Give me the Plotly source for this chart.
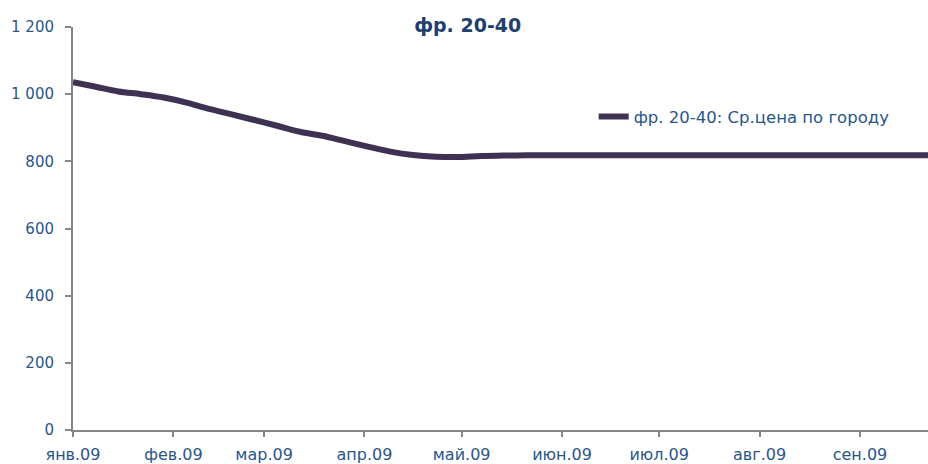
import plotly.graph_objects as go
import pandas as pd

# weekly readings starting 2009-01-01
start_date = "2009-01-01"
prices = [1036, 1022, 1008, 1000, 990, 975, 956, 940, 923, 906,
          888, 876, 860, 844, 829, 819, 814, 813, 816, 817,
          818, 818, 818, 818, 818, 818, 818, 818, 818, 818,
          818, 818, 818, 818, 818, 818, 818, 818, 818]
dates = pd.date_range(start_date, periods=len(prices), freq="7D")

series_name = "фр. 20-40: Ср.цена по городу"
title_text = "фр. 20-40"
month_ticks = ["2009-01-01", "2009-02-01", "2009-03-01", "2009-04-01", "2009-05-01",
               "2009-06-01", "2009-07-01", "2009-08-01", "2009-09-01"]
month_labels = ["янв.09", "фев.09", "мар.09", "апр.09", "май.09",
                "июн.09", "июл.09", "авг.09", "сен.09"]
y_ticks = [0, 200, 400, 600, 800, 1000, 1200]
y_labels = ["0", "200", "400", "600", "800", "1 000", "1 200"]

txt = "#2a5588"
axis_col = "#868686"

fig = go.Figure()
fig.add_trace(go.Scatter(x=dates, y=prices, mode="lines", name=series_name,
                         line=dict(color="#3f3151", width=6, shape="spline")))

fig.update_layout(
    width=928, height=464,
    margin=dict(l=73, r=0, t=27, b=34),
    paper_bgcolor="white", plot_bgcolor="white",
    font=dict(family="DejaVu Sans", size=15, color=txt),
    title=dict(text="<b>" + title_text + "</b>", x=0.504, xanchor="center",
               y=0.946, yanchor="middle", font=dict(size=19, color="#1f3f6e")),
    showlegend=True,
    legend=dict(x=0.609, y=0.777, xanchor="left", yanchor="middle",
                bgcolor="rgba(0,0,0,0)", font=dict(size=16.5, color=txt),
                itemwidth=30),
)
fig.update_xaxes(range=["2009-01-01", "2009-09-22"], tickvals=month_ticks, ticktext=month_labels,
                 showgrid=False, zeroline=False, showline=True, linecolor=axis_col, linewidth=2,
                 ticks="outside", ticklen=5, tickcolor=axis_col, tickwidth=2,
                 ticklabelstandoff=4,
                 tickfont=dict(size=16, color=txt))
fig.update_yaxes(range=[0, 1200], tickvals=y_ticks, ticktext=y_labels,
                 showgrid=False, zeroline=False, showline=True, linecolor=axis_col, linewidth=2,
                 ticks="outside", ticklen=6, tickcolor=axis_col, tickwidth=2,
                 ticklabelstandoff=8,
                 tickfont=dict(size=15, color=txt))

fig.write_html("out.html", config={"displayModeBar": False},
               post_script="document.body.style.margin='0px';document.body.style.overflow='hidden';")
